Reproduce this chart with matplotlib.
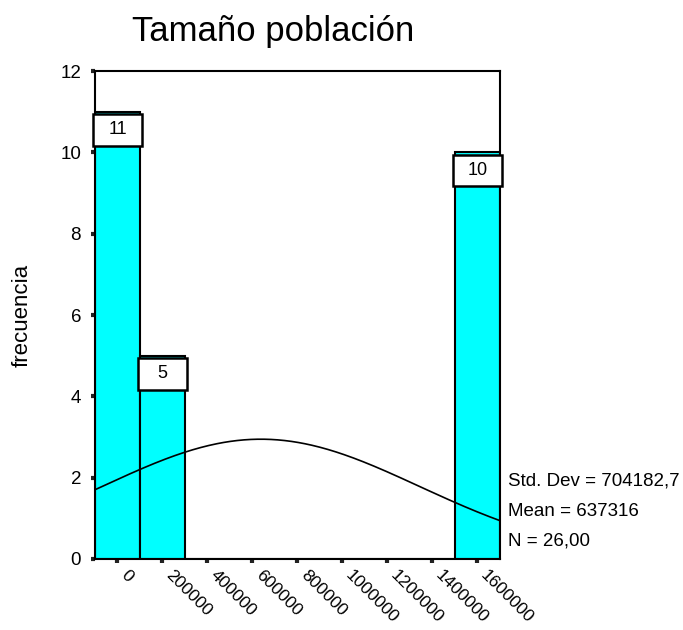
import numpy as np
import matplotlib.pyplot as plt
from matplotlib.patches import Rectangle
from matplotlib.transforms import ScaledTranslation

plt.rcParams['font.family'] = ['Liberation Sans', 'DejaVu Sans']

# histogram data
bin_centers = [0, 200000, 400000, 600000, 800000, 1000000, 1200000, 1400000, 1600000]
counts = [11, 5, 0, 0, 0, 0, 0, 0, 10]
bin_width = 200000
tick_labels = ['0', '200000', '400000', '600000', '800000', '1000000', '1200000', '1400000', '1600000']

std_dev = 704182.7
mean = 637316
n = 26

fig = plt.figure(figsize=(6.83, 6.3), dpi=100)
ax = fig.add_axes([0.139, 0.1127, 0.593, 0.7746])

ax.bar(bin_centers, counts, width=bin_width, color='#00ffff', edgecolor='black', linewidth=1.5)

# count labels in boxes at top of each bar
for x, c in zip(bin_centers, counts):
    if c > 0:
        ax.add_patch(Rectangle((x - 108000, c - 0.84), 216000, 0.78, fc='white', ec='black',
                               lw=1.8, zorder=4, clip_on=False))
        ax.text(x, c - 0.45, str(c), ha='center', va='center', fontsize=13, zorder=5)

# fitted normal curve
xs = np.linspace(-100000, 1700000, 300)
ys = n * bin_width / (std_dev * np.sqrt(2 * np.pi)) * np.exp(-0.5 * ((xs - mean) / std_dev) ** 2)
ax.plot(xs, ys, color='black', lw=1.2, zorder=3)

ax.set_xlim(-100000, 1700000)
ax.set_ylim(0, 12)
ax.set_yticks([0, 2, 4, 6, 8, 10, 12])
ax.set_xticks(bin_centers)
ax.set_xticklabels(tick_labels, rotation=-45, ha='left', va='top', rotation_mode='anchor')
ax.tick_params(axis='both', labelsize=13.5, direction='out', length=3, width=3, color='#222222')
ax.tick_params(axis='x', pad=3, labelsize=12.5)
ax.tick_params(axis='y', pad=7)
shift = ScaledTranslation(11 / 100, 0, fig.dpi_scale_trans)
for lbl in ax.get_xticklabels():
    lbl.set_transform(lbl.get_transform() + shift)
for s in ax.spines.values():
    s.set_linewidth(1.5)

ax.set_ylabel('frecuencia', fontsize=16, labelpad=20)
fig.text(273 / 683, 1 - 32 / 630, 'Tamaño población', fontsize=25, ha='center', va='center')

stats = ['Std. Dev = 704182,7', 'Mean = 637316', 'N = 26,00']
for i, s in enumerate(stats):
    fig.text(0.744, 1 - (481 + 30 * i) / 630, s, fontsize=13.5, va='center', ha='left')

fig.savefig('out.png', dpi=100)
